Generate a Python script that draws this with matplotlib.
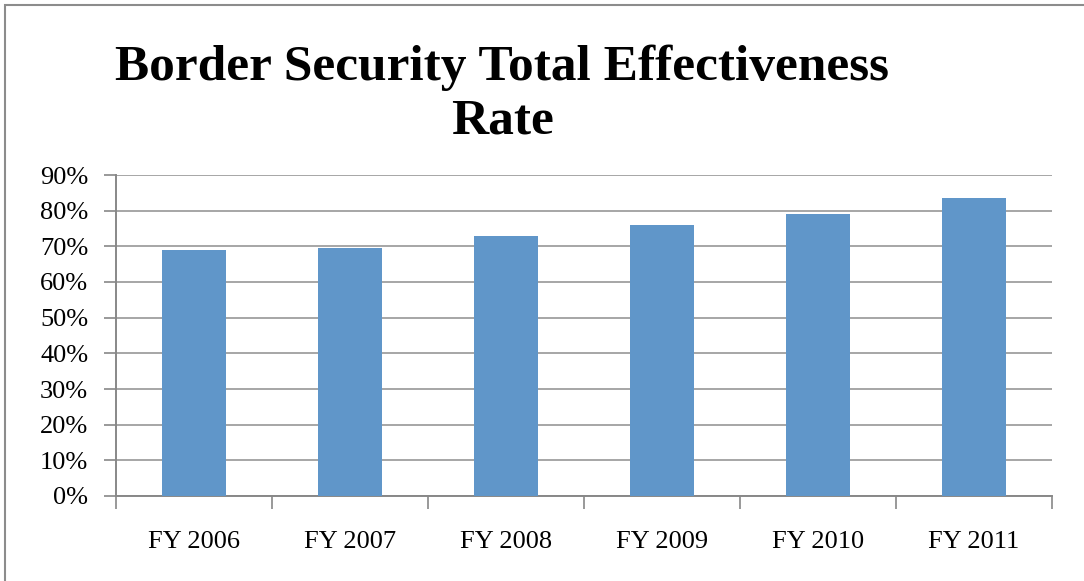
import numpy as np
import matplotlib
matplotlib.use("Agg")
import matplotlib.pyplot as plt
from matplotlib.patches import Rectangle
from matplotlib.ticker import PercentFormatter

# Dataset
years = ['FY 2006', 'FY 2007', 'FY 2008', 'FY 2009', 'FY 2010', 'FY 2011']
rates = [69.1, 69.6, 72.8, 76.1, 79.1, 83.5]
title_lines = ['Border Security Total Effectiveness', 'Rate']

plt.rcParams['font.family'] = ['Liberation Serif', 'DejaVu Serif']

fig = plt.figure(figsize=(10.84, 5.81), dpi=100)
ax = fig.add_axes([116/1084, 1 - 496/581, (1052-116)/1084, (496-175)/581])

x = np.arange(len(years))
ax.bar(x, rates, width=0.41, color='#6096C9', zorder=3)

ax.set_xlim(-0.5, len(years) - 0.5)
ax.set_ylim(0, 90)
ax.set_yticks(np.arange(0, 91, 10))
ax.yaxis.set_major_formatter(PercentFormatter(decimals=0))
ax.grid(axis='y', color='#a6a6a6', linewidth=1.4, zorder=0)

# category ticks sit at the boundaries, labels in the middle
ax.set_xticks(np.arange(-0.5, len(years)), minor=False)
ax.set_xticklabels([])
ax.set_xticks(x, minor=True)
ax.set_xticklabels(years, minor=True)
ax.tick_params(axis='x', which='major', length=9, width=1.2, color='#888888', direction='out')
ax.tick_params(axis='x', which='minor', length=0, pad=25, labelsize=19)
ax.tick_params(axis='y', length=9, width=1.2, color='#888888', labelsize=19, pad=11)

for s in ['top', 'right']:
    ax.spines[s].set_visible(False)
for s in ['left', 'bottom']:
    ax.spines[s].set_color('#888888')
    ax.spines[s].set_linewidth(1.4)

# title, two centred lines
fig.text(502/1084, 1 - 80/581, title_lines[0], ha='center', va='baseline',
         fontsize=37, fontweight='bold')
fig.text(502/1084, 1 - 133/581, title_lines[1], ha='center', va='baseline',
         fontsize=37, fontweight='bold')

# chart border
fig.patches.append(Rectangle((5/1084, -0.05), 1.05, 1 - 5/581 + 0.05,
                             transform=fig.transFigure, fill=False,
                             edgecolor='#8c8c8c', linewidth=1.5))

fig.savefig('out.png', dpi=100)
